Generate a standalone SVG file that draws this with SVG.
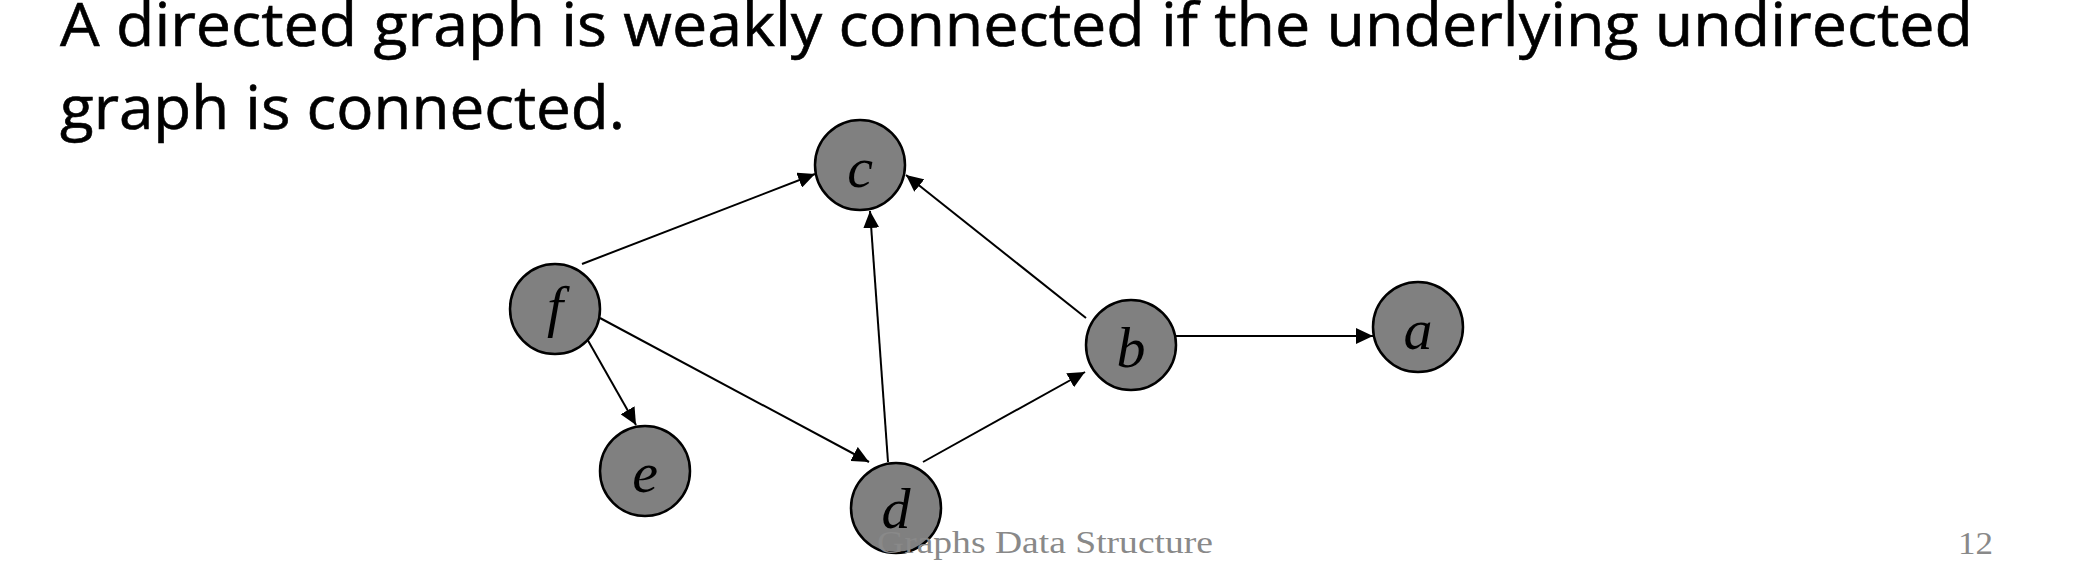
<svg xmlns="http://www.w3.org/2000/svg" width="2076" height="580" viewBox="0 0 2076 580">
<style>
.title{font-family:"Open Sans","Noto Sans",sans-serif;font-size:60px;fill:#000;stroke:#000;stroke-width:0.6}
.node circle{fill:#808080;stroke:#000;stroke-width:2.5}
.node text{font-family:"Liberation Serif","DejaVu Serif",serif;font-style:italic;font-size:58px;fill:#000;text-anchor:middle}
.edge{stroke:#000;stroke-width:2;fill:none;marker-end:url(#arr)}
.foot{font-family:"Liberation Serif","DejaVu Serif",serif;font-size:32px;fill:#898989}
</style>
<defs>
<marker id="arr" markerWidth="18" markerHeight="16" refX="17" refY="8" orient="auto" markerUnits="userSpaceOnUse">
<path d="M0,0 L17,8 L0,16 z" fill="#000"/>
</marker>
</defs>
<rect width="2076" height="580" fill="#fff"/>
<text class="title" x="60" y="46" textLength="1913" lengthAdjust="spacingAndGlyphs">A directed graph is weakly connected if the underlying undirected</text>
<text class="title" x="60" y="129" textLength="565" lengthAdjust="spacingAndGlyphs">graph is connected.</text>
<g id="connectors">
<line class="edge" x1="582" y1="264" x2="815" y2="174"/>
<line class="edge" x1="1086" y1="318" x2="906" y2="175"/>
<line class="edge" x1="888" y1="462" x2="870" y2="211"/>
<line class="edge" x1="586" y1="337" x2="636" y2="425"/>
<line class="edge" x1="600" y1="318" x2="869" y2="462"/>
<line class="edge" x1="923" y1="462" x2="1085" y2="372"/>
<line class="edge" x1="1176" y1="336" x2="1373" y2="336"/>
</g>
<g id="node-c" class="node"><circle cx="860" cy="165" r="45"/><text x="860" y="187">c</text></g>
<g id="node-f" class="node"><circle cx="555" cy="309" r="45"/><text x="555" y="326">f</text></g>
<g id="node-b" class="node"><circle cx="1131" cy="345" r="45"/><text x="1131" y="367">b</text></g>
<g id="node-a" class="node"><circle cx="1418" cy="327" r="45"/><text x="1418" y="349">a</text></g>
<g id="node-e" class="node"><circle cx="645" cy="471" r="45"/><text x="645" y="492">e</text></g>
<g id="node-d" class="node"><circle cx="896" cy="508" r="45"/><text x="896" y="528">d</text></g>
<text class="foot" x="877" y="553" textLength="336" lengthAdjust="spacingAndGlyphs">Graphs Data Structure</text>
<text class="foot" x="1958" y="554" textLength="35" lengthAdjust="spacingAndGlyphs">12</text>
</svg>
